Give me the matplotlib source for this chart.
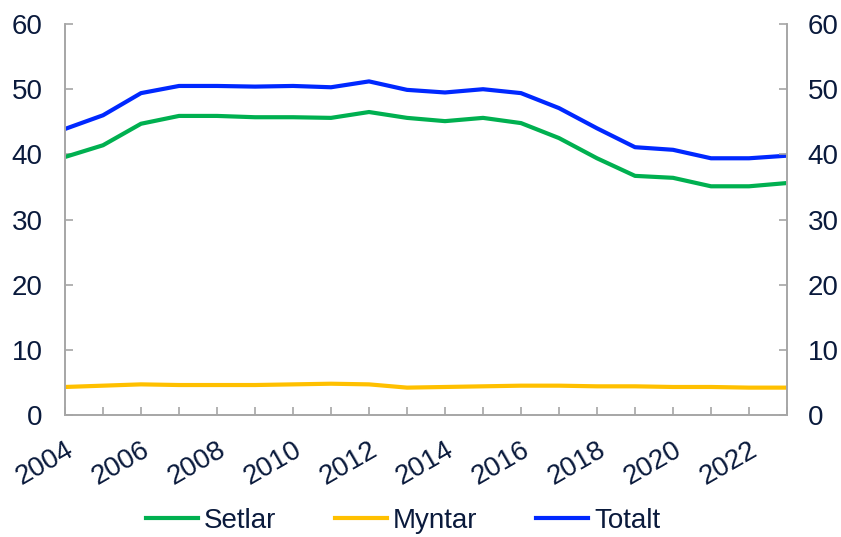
import matplotlib
matplotlib.use("Agg")
import matplotlib.pyplot as plt
import numpy as np

plt.rcParams['font.family'] = ['Liberation Sans', 'DejaVu Sans']

# Data
years = list(range(2004, 2024))
setlar = [39.6, 41.4, 44.7, 45.9, 45.9, 45.7, 45.7, 45.6, 46.5, 45.6,
          45.1, 45.6, 44.8, 42.5, 39.4, 36.7, 36.4, 35.1, 35.1, 35.6]
myntar = [4.3, 4.5, 4.7, 4.6, 4.6, 4.6, 4.7, 4.8, 4.7, 4.2,
          4.3, 4.4, 4.5, 4.5, 4.4, 4.4, 4.3, 4.3, 4.2, 4.2]
totalt = [43.9, 46.0, 49.4, 50.5, 50.5, 50.4, 50.5, 50.3, 51.2, 49.9,
          49.5, 50.0, 49.4, 47.1, 44.0, 41.1, 40.7, 39.4, 39.4, 39.8]

textcol = '#0a1a3c'
spinecol = '#a6a6a6'
fs = 20

fig = plt.figure(figsize=(8.41, 5.37), dpi=100)
ax = fig.add_axes([0.0773, 0.2272, 0.8585, 0.728])

ax.plot(years, setlar, color='#00b050', lw=3, label='Setlar')
ax.plot(years, myntar, color='#ffc000', lw=3, label='Myntar')
ax.plot(years, totalt, color='#0028ff', lw=3, label='Totalt')

ax.set_xlim(2004, 2023)
ax.set_ylim(0, 60)
ax.set_yticks(range(0, 61, 10))
ax.set_xticks(years)
ax.set_xticklabels([str(y) if (y - 2004) % 2 == 0 else '' for y in years],
                   rotation=30, ha='right', rotation_mode='anchor')

ax2 = ax.twinx()
ax2.set_ylim(0, 60)
ax2.set_yticks(range(0, 61, 10))

for a in (ax, ax2):
    a.spines['top'].set_visible(False)
    for s in ('left', 'right', 'bottom'):
        a.spines[s].set_color(spinecol)
        a.spines[s].set_linewidth(1.2)
    a.tick_params(direction='in', color=spinecol, width=1.2, length=6,
                  labelsize=fs, labelcolor=textcol)
ax.tick_params(axis='y', pad=16)
ax2.tick_params(axis='y', pad=15)
ax.tick_params(axis='x', pad=16)

# legend sits at the very bottom edge, as in the source
fig.legend(loc='center', bbox_to_anchor=(0.479, 0.03), ncol=3, frameon=False,
           fontsize=fs, handlelength=1.9, columnspacing=2.1, handletextpad=0.2,
           labelcolor=textcol)

fig.savefig('out.png', dpi=100)
